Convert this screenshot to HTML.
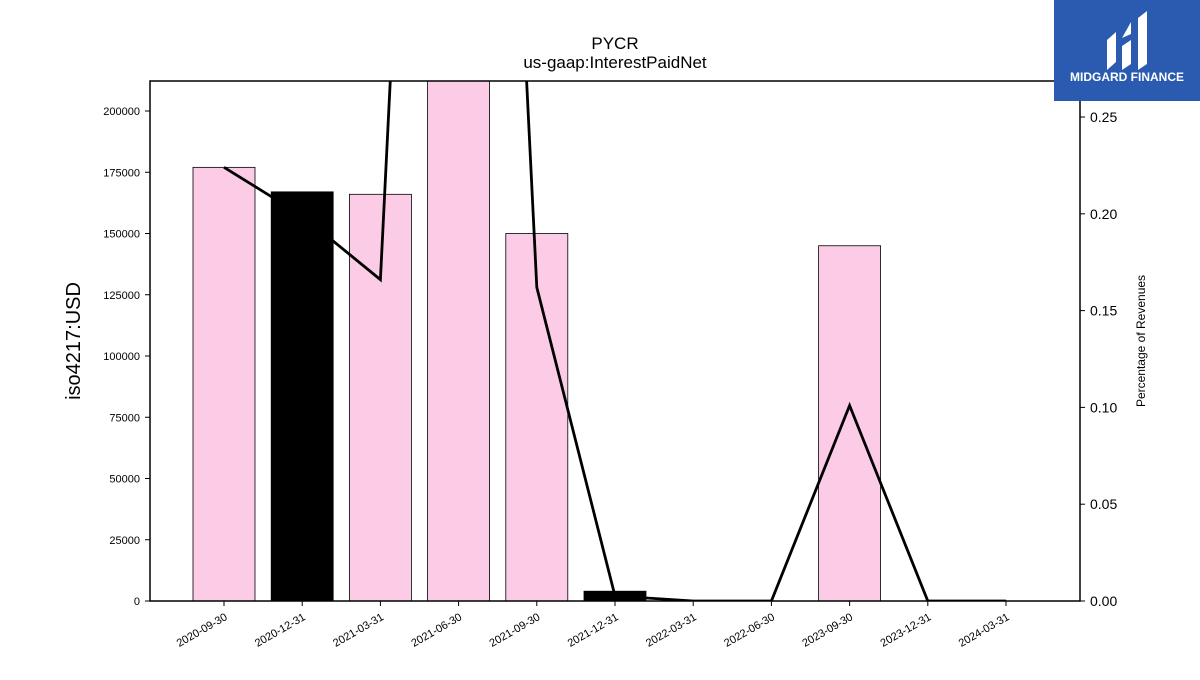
<!DOCTYPE html>
<html><head><meta charset="utf-8"><style>
body{margin:0;background:#fff;font-family:"Liberation Sans","DejaVu Sans",sans-serif}
</style></head><body>
<svg width="1200" height="675" viewBox="0 0 1200 675" xmlns="http://www.w3.org/2000/svg">
<defs><clipPath id="pc"><rect x="150" y="81" width="930" height="520"/></clipPath></defs>
<text x="615" y="49" text-anchor="middle" font-size="17">PYCR</text>
<text x="615" y="68" text-anchor="middle" font-size="17">us-gaap:InterestPaidNet</text>
<g id="bars" clip-path="url(#pc)"></g>
<g id="line" clip-path="url(#pc)"></g>
<rect x="150" y="81" width="930" height="520" fill="none" stroke="#000" stroke-width="1.5"/>
<g id="axes"></g>
<text transform="translate(80,341) rotate(-90)" text-anchor="middle" font-size="20">iso4217:USD</text>
<text transform="translate(1145,341) rotate(-90)" text-anchor="middle" font-size="12">Percentage of Revenues</text>
<g>
<rect x="1054" y="0" width="146" height="101" fill="#2a5bb0"/>
<path d="M1107 70 L1107 40 L1116 32 L1116 62 Z M1122 70 L1122 46 L1131 40 L1131 64 Z M1138 70 L1138 18 L1147 11 L1147 64 Z M1122 38 L1131 22 L1131 34 Z" fill="#fff"/>
<text x="1127" y="81" text-anchor="middle" font-size="12" font-weight="bold" fill="#fff">MIDGARD FINANCE</text>
</g>
</svg>
<script>
const categories=["2020-09-30","2020-12-31","2021-03-31","2021-06-30","2021-09-30","2021-12-31","2022-03-31","2022-06-30","2023-09-30","2023-12-31","2024-03-31"];
const barValues=[177000,167000,166000,250000,150000,4000,0,0,145000,0,0];
const barHighlight=[false,true,false,false,false,true,false,false,false,false,false];
const ratioValues=[0.224,0.199,0.166,0.98,0.162,0.0026,0,0,0.101,0,0];
const leftTicks=[0,25000,50000,75000,100000,125000,150000,175000,200000];
const rightTicks=["0.00","0.05","0.10","0.15","0.20","0.25"];
const NS="http://www.w3.org/2000/svg";
const x0=150,x1=1080,y0=601,y1=81,lmax=212245,rmax=0.2686;
const step=78.2,first=224;
const xs=i=>first+i*step;
const yl=v=>y0-(v/lmax)*(y0-y1);
const yr=v=>y0-(v/rmax)*(y0-y1);
function mk(t,a,p){const e=document.createElementNS(NS,t);for(const k in a)e.setAttribute(k,a[k]);p.appendChild(e);return e;}
const bars=document.getElementById('bars'),line=document.getElementById('line'),axes=document.getElementById('axes');
categories.forEach((c,i)=>{
 const v=barValues[i];if(v<=0)return;
 const r=mk('rect',{x:xs(i)-31,y:yl(v),width:62,height:y0-yl(v),fill:barHighlight[i]?'#000':'#fccce6',stroke:'#000','stroke-width':0.8},bars);
 
 
});
const pl=mk('polyline',{points:ratioValues.map((v,i)=>xs(i)+','+yr(v)).join(' '),fill:'none',stroke:'#000','stroke-width':2.8,'stroke-linejoin':'miter'},line);


leftTicks.forEach(t=>{
 const y=yl(t);
 mk('line',{x1:x0-5,x2:x0,y1:y,y2:y,stroke:'#000'},axes);
 const tx=mk('text',{x:x0-10,y:y+4,'text-anchor':'end','font-size':11},axes);tx.textContent=t;
 
 
});
rightTicks.forEach(t=>{
 const y=yr(parseFloat(t));
 mk('line',{x1:x1,x2:x1+5,y1:y,y2:y,stroke:'#000'},axes);
 const tx=mk('text',{x:x1+10,y:y+5,'font-size':14},axes);tx.textContent=t;
 
 
});
categories.forEach((c,i)=>{
 const x=xs(i);
 mk('line',{x1:x,x2:x,y1:y0,y2:y0+5,stroke:'#000'},axes);
 const tx=mk('text',{x:x+4,y:y0+18,'text-anchor':'end','font-size':11,transform:`rotate(-30 ${x+4} ${y0+18})`},axes);
 tx.textContent=c;
 
 
});
</script>
</body></html>
